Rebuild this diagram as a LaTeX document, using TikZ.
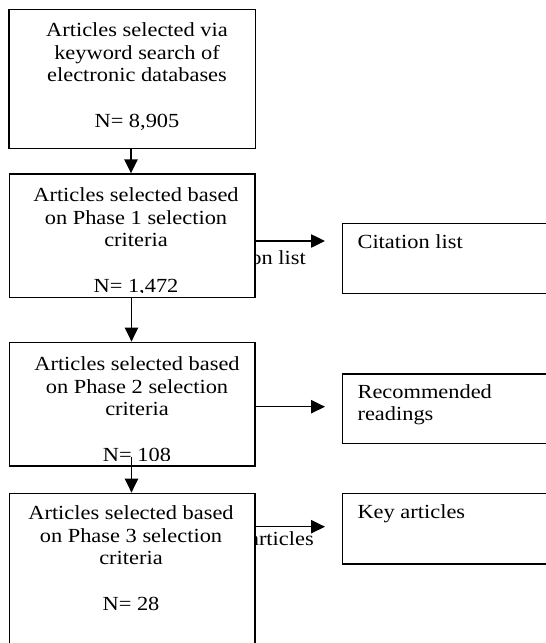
\documentclass[tikz,border=0pt]{standalone}
\usepackage{fontspec}
\setmainfont{Liberation Serif}[FakeStretch=1.12]
\usetikzlibrary{arrows.meta,fit,calc}

\begin{document}
\begin{tikzpicture}[x=0.75pt,y=-0.75pt,
  box/.style={draw, line width=1.05pt, fill=white, inner sep=0pt},
  boxtext/.style={inner sep=0pt, align=center, anchor=base,
    font=\fontsize{15pt}{17pt}\selectfont},
  sidetext/.style={inner sep=0pt, align=left, anchor=base west,
    font=\fontsize{15pt}{17pt}\selectfont},
  flow/.style={line width=1.05pt, -{Triangle[length=10.5pt,width=10pt]}}]

\useasboundingbox (0,0) rectangle (546,643);
\fill[white] (0,0) rectangle (546,643);
\clip (0,0) rectangle (546,643);

% arrow labels, partly covered by the left column
\node[sidetext, anchor=base east] (lab1) at (306,264) {Citation list};
\node[sidetext, anchor=base east] (lab3) at (314,545) {Key articles};

% left column
\node[box, fit={(9,9.3)(255.5,148.3)}] (b1) {};
\node[box, fit={(9.4,174)(255,297.3)}] (b2) {};
\node[box, fit={(9.4,342.3)(255,466)}] (b3) {};
\node[box, fit={(9.4,493.3)(255,670)}] (b4) {};

% right column
\node[box, fit={(342.7,223.3)(560,293.3)}] (r1) {};
\node[box, fit={(342.7,374)(560,443.7)}] (r2) {};
\node[box, fit={(342.7,493.3)(560,564)}] (r3) {};

% texts of the left column (placed by the baseline of their last line)
\node[boxtext] (t1) at (137,127)
  {Articles selected via\\keyword search of\\electronic databases\\[17pt]N= 8,905};
\begin{scope}
  \clip (b2.north west) rectangle ($(b2.south east)+(0,-6)$);
  \node[boxtext] (t2) at (136,292)
    {Articles selected based\\on Phase 1 selection\hspace*{15pt}\\criteria\hspace*{12.75pt}\\[17pt]N= 1,472};
\end{scope}
\begin{scope}
  \clip (b3.north west) rectangle ($(b3.south east)+(0,-6)$);
  \node[boxtext] (t3) at (137,461)
    {Articles selected based\\on Phase 2 selection\\criteria\hspace*{6pt}\\[17pt]N= 108};
\end{scope}
\node[boxtext] (t4) at (131,610)
  {Articles selected based\\on Phase 3 selection\\criteria\\[17pt]N= 28};

% texts of the right column
\node[sidetext] (s1) at (357.3,248.3) {Citation list};
\node[sidetext] (s2) at (357.3,420.8) {Recommended\\readings};
\node[sidetext] (s3) at (357.3,518.5) {Key articles};

% vertical connectors
\coordinate (v1) at (131,0);
\coordinate (v2) at (131.5,0);
\draw[flow] (v1 |- b1.south) -- (v1 |- b2.north);
\draw[flow] (v2 |- b2.south) -- (v2 |- b3.north);
\draw[flow] ($(v2 |- b3.south)+(0,-10)$) -- (v2 |- b4.north);

% horizontal connectors
\coordinate (h1) at (0,241);
\coordinate (h2) at (0,406.7);
\coordinate (h3) at (0,526.7);
\draw[flow] (h1 -| b2.east) -- ($(h1 -| r1.west)+(-17,0)$);
\draw[flow] (h2 -| b3.east) -- ($(h2 -| r2.west)+(-17,0)$);
\draw[flow] (h3 -| b4.east) -- ($(h3 -| r3.west)+(-17,0)$);
\end{tikzpicture}
\end{document}
